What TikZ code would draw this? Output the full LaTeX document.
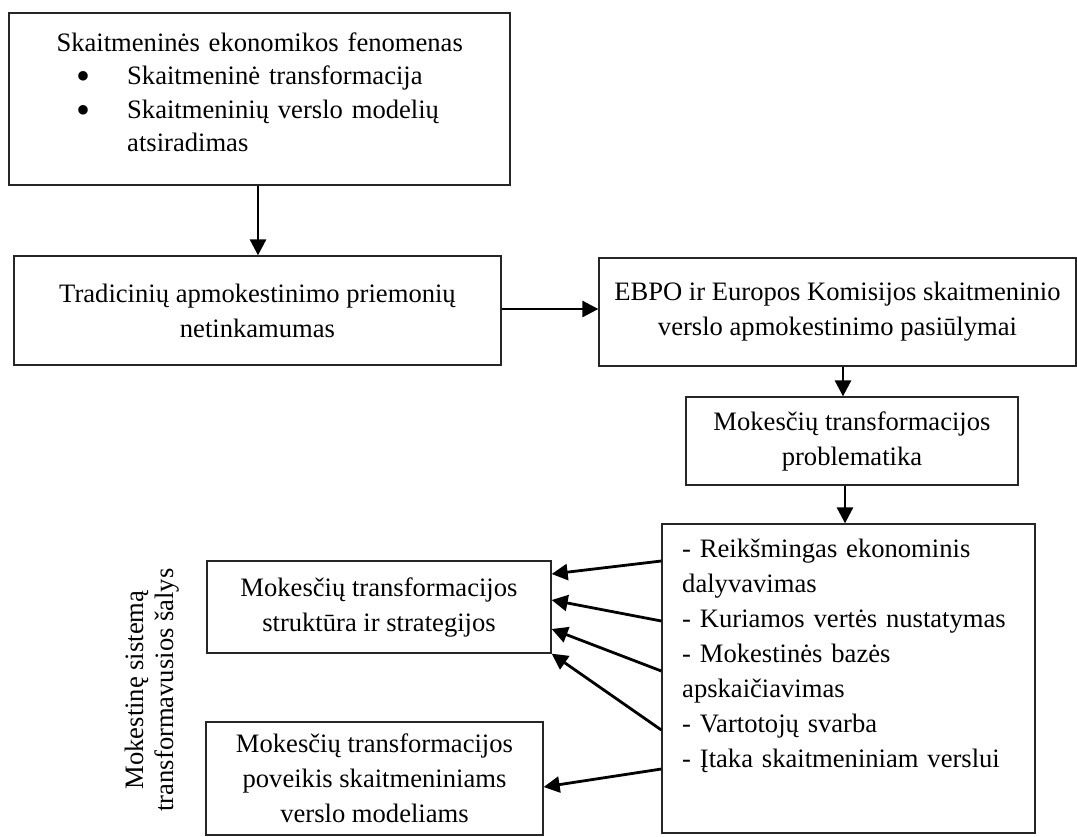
\documentclass[tikz,border=0pt]{standalone}
\usepackage{fontspec}
\usepackage{graphicx}
\setmainfont{Liberation Serif}
\usetikzlibrary{arrows.meta,calc}
\newcommand\bodyfont{\fontsize{26.6}{35}\selectfont}
\newcommand\listfont{\fontsize{26.6}{33.5}\selectfont}
\newcommand\sidefont{\fontsize{26.6}{30}\selectfont}
\newcommand\bigbullet{\makebox[0pt]{\raisebox{-5pt}{\scalebox{1.5}{\textbullet}}}}
\begin{document}
\begin{tikzpicture}[x=1pt,y=-1pt,
  box/.style={draw=black!85, line width=1.3pt, inner sep=0pt, align=center, font=\bodyfont},
  txt/.style={inner sep=0pt, font=\bodyfont},
  arr/.style={line width=2.8pt, -{Triangle[length=16pt,width=16pt]}}]
\useasboundingbox (0,0) rectangle (1077,836);

% top box with the bullet list
\node[box, minimum width=501pt, minimum height=172pt] (b1) at (259.5,99) {};
\node[txt, font=\listfont, text width=501pt, anchor=base west] (b1t) at (9,51) {%
  {\centering Skaitmeninės ekonomikos fenomenas\par}
  \hspace*{74pt}\bigbullet\hspace*{44pt}Skaitmeninė transformacija\par
  \hspace*{74pt}\bigbullet\hspace*{44pt}Skaitmeninių verslo modelių\par
  \hspace*{118pt}atsiradimas};

% main chain
\node[box, minimum width=487pt, minimum height=109pt] (b2) at (257.5,310.5)
  {Tradicinių apmokestinimo priemonių\\netinkamumas};
\node[box, minimum width=477pt, minimum height=108pt] (b3) at (837.5,312)
  {EBPO ir Europos Komisijos skaitmeninio\\verslo apmokestinimo pasiūlymai};
\node[box, minimum width=332pt, minimum height=88pt] (b4) at (852,441)
  {Mokesčių transformacijos\\problematika};

% criteria box
\node[box, minimum width=373pt, minimum height=309pt] (b5) at (848.5,678.5) {};
\node[txt, text width=340pt, anchor=base west] (b5t) at (682,557) {%
  - Reikšmingas ekonominis\par
  dalyvavimas\par
  - Kuriamos vertės nustatymas\par
  - Mokestinės bazės\par
  apskaičiavimas\par
  - Vartotojų svarba\par
  - Įtaka skaitmeniniam verslui};

% left-hand boxes
\node[box, minimum width=344pt, minimum height=92pt] (b6) at (379,607)
  {Mokesčių transformacijos\\struktūra ir strategijos};
\node[box, minimum width=337pt, minimum height=113pt] (b7) at (374.5,778.5)
  {Mokesčių transformacijos\\poveikis skaitmeniniams\\verslo modeliams};

% side caption
\node[inner sep=0pt, rotate=90, align=center, font=\sidefont] (side) at (152,690)
  {Mokestinę sistemą\\transformavusios šalys};

% connectors
\draw[arr] ([xshift=-1.5pt]b1.south) -- ([xshift=-1.5pt]b1.south |- b2.north);
\draw[arr] ([yshift=1.5pt]b2.east) -- ([yshift=1.5pt]b2.east -| b3.west);
\draw[arr] ([xshift=5.5pt]b3.south) -- ([xshift=5.5pt]b3.south |- b4.north);
\draw[arr] ([xshift=-7pt]b4.south) -- ([xshift=-7pt]b4.south |- b5.north);

\draw[arr] ([yshift=117.5pt]b5.west) -- ([yshift=33pt]b6.east);
\draw[arr] ([yshift=57.5pt]b5.west) -- ([yshift=7pt]b6.east);
\draw[arr] ([yshift=7.5pt]b5.west) -- ([yshift=-22pt]b6.east);
\draw[arr] ([yshift=-51.5pt]b5.west) -- (b6.south east);
\draw[arr] ([yshift=-90.5pt]b5.west) -- ([yshift=-8.5pt]b7.east);
\end{tikzpicture}
\end{document}
